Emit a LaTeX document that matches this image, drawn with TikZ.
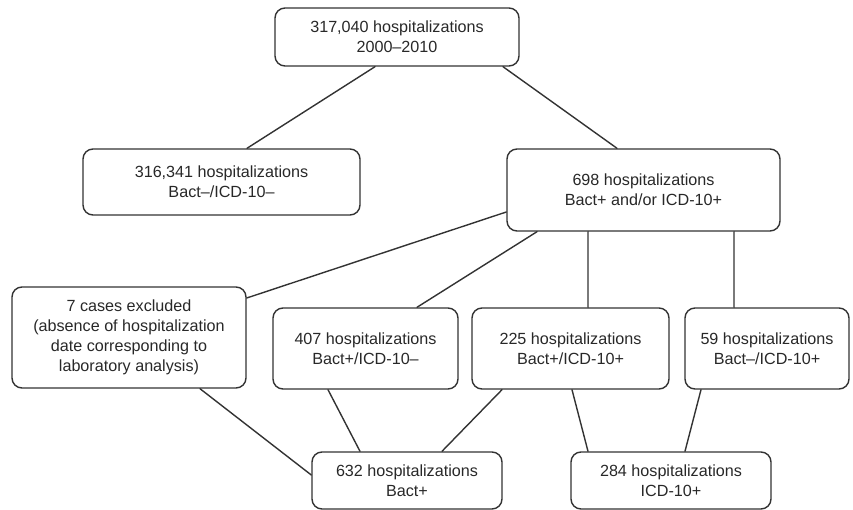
\documentclass[tikz,border=0pt]{standalone}
\usepackage{fontspec}
\setmainfont{Liberation Sans}
\usetikzlibrary{calc}
\definecolor{edgegray}{RGB}{51,51,51}
\definecolor{textgray}{RGB}{40,40,40}

\begin{document}
\begin{tikzpicture}[line cap=round,line join=round,x=0.02cm,y=-0.02cm,
  box/.style={draw=edgegray,line width=0.8pt,rounded corners=0.2cm,align=center,
    inner sep=0pt,text=textgray,font=\fontsize{9.2}{11.4}\selectfont},
  link/.style={draw=edgegray,line width=0.8pt}]
\useasboundingbox (0,0) rectangle (853,510);
% boxes
\node[box,minimum width=244*0.02cm,minimum height=58*0.02cm] (total) at (397,37) {317,040 hospitalizations\\2000--2010};
\node[box,minimum width=277*0.02cm,minimum height=66*0.02cm] (neg) at (221.5,182) {316,341 hospitalizations\\Bact--/ICD-10--};
\node[box,minimum width=273*0.02cm,minimum height=82*0.02cm] (pos) at (643.5,190) {698 hospitalizations\\Bact+ and/or ICD-10+};
\node[box,minimum width=234*0.02cm,minimum height=101*0.02cm] (excl) at (129,337.5) {7 cases excluded\\(absence of hospitalization\\date corresponding to\\laboratory analysis)};
\node[box,minimum width=185*0.02cm,minimum height=81*0.02cm] (bpos) at (365.5,348.5) {407 hospitalizations\\Bact+/ICD-10--};
\node[box,minimum width=197*0.02cm,minimum height=81*0.02cm] (both) at (570.5,348.5) {225 hospitalizations\\Bact+/ICD-10+};
\node[box,minimum width=164*0.02cm,minimum height=81*0.02cm] (ipos) at (767,348.5) {59 hospitalizations\\Bact--/ICD-10+};
\node[box,minimum width=190*0.02cm,minimum height=57*0.02cm] (bact) at (407,480.5) {632 hospitalizations\\Bact+};
\node[box,minimum width=200*0.02cm,minimum height=57*0.02cm] (icd) at (671,480.5) {284 hospitalizations\\ICD-10+};
% connectors
\draw[link] ($(total.south)+(-22,0)$) -- ($(neg.north)+(25.5,0)$);
\draw[link] ($(total.south)+(106,0)$) -- ($(pos.north)+(-26.5,0)$);
\draw[link] ($(pos.west)+(0,22)$) -- ($(excl.east)+(0,-39.5)$);
\draw[link] ($(pos.south)+(-106.5,0)$) -- ($(bpos.north)+(51.5,0)$);
\draw[link] ($(pos.south)+(-55.5,0)$) -- ($(both.north)+(17.5,0)$);
\draw[link] ($(pos.south)+(90.5,0)$) -- ($(ipos.north)+(-33,0)$);
\draw[link] ($(excl.south)+(71,0)$) -- ($(bact.west)+(0,-5.5)$);
\draw[link] ($(bpos.south)+(-37.5,0)$) -- ($(bact.north)+(-47,0)$);
\draw[link] ($(both.south)+(-68.5,0)$) -- ($(bact.north)+(35,0)$);
\draw[link] ($(both.south)+(1.5,0)$) -- ($(icd.north)+(-83,0)$);
\draw[link] ($(ipos.south)+(-66,0)$) -- ($(icd.north)+(14,0)$);
\end{tikzpicture}
\end{document}
